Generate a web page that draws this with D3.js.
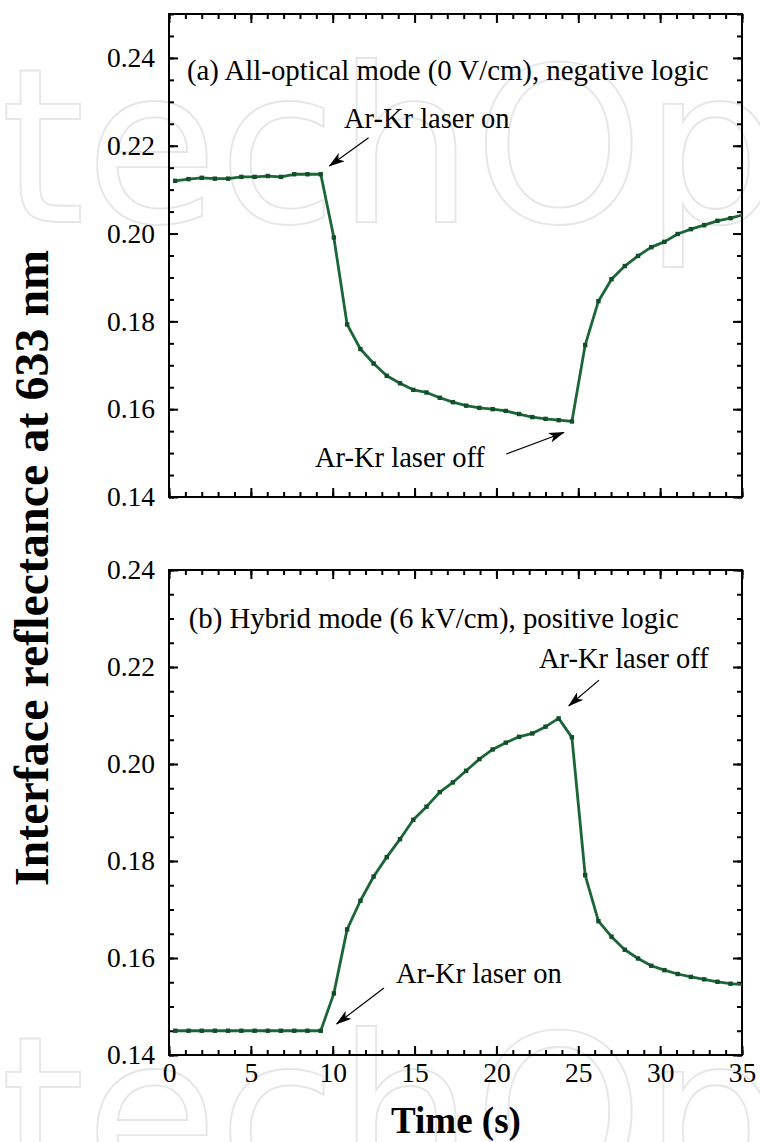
<!DOCTYPE html>
<html>
<head>
<meta charset="utf-8">
<script src="https://cdn.jsdelivr.net/npm/d3@7"></script>
<style>
body { margin: 0; background: #fff; }
svg text { font-family: "Liberation Serif", "Times New Roman", serif; }
</style>
</head>
<body>
<script>
// sample times (s)
var times = [0.38, 1.19, 2.00, 2.80, 3.61, 4.42, 5.23, 6.03, 6.84, 7.65, 8.46, 9.27,
    10.07, 10.88, 11.69, 12.50, 13.30, 14.11, 14.92, 15.73, 16.54, 17.34, 18.15, 18.96,
    19.77, 20.57, 21.38, 22.19, 23.00, 23.80, 24.61, 25.42, 26.23, 27.03, 27.84, 28.65,
    29.46, 30.26, 31.07, 31.88, 32.69, 33.50, 34.30, 35.11];

// (a) all-optical mode, 0 V/cm
var reflA = [0.2120, 0.2124, 0.2127, 0.2125, 0.2125, 0.2129, 0.2129, 0.2131, 0.2129, 0.2135, 0.2135, 0.2135,
    0.1991, 0.1793, 0.1737, 0.1704, 0.1676, 0.1659, 0.1644, 0.1638, 0.1626, 0.1616, 0.1608, 0.1603,
    0.1600, 0.1596, 0.1589, 0.1582, 0.1578, 0.1575, 0.1572, 0.1746, 0.1846, 0.1896, 0.1926, 0.1949,
    0.1969, 0.1981, 0.1999, 0.2010, 0.2019, 0.2029, 0.2035, 0.2043];

// (b) hybrid mode, 6 kV/cm
var reflB = [0.1450, 0.1450, 0.1450, 0.1450, 0.1450, 0.1450, 0.1450, 0.1450, 0.1450, 0.1450, 0.1450, 0.1450,
    0.1527, 0.1659, 0.1718, 0.1768, 0.1808, 0.1845, 0.1885, 0.1912, 0.1942, 0.1962, 0.1986, 0.2010,
    0.2030, 0.2044, 0.2056, 0.2063, 0.2077, 0.2094, 0.2055, 0.1771, 0.1676, 0.1644, 0.1617, 0.1599,
    0.1584, 0.1575, 0.1567, 0.1561, 0.1556, 0.1551, 0.1547, 0.1545];

var xTicks = [0, 5, 10, 15, 20, 25, 30, 35];
var yTicks = [0.14, 0.16, 0.18, 0.20, 0.22, 0.24];
var panelTitles = ["(a) All-optical mode (0 V/cm), negative logic",
                   "(b) Hybrid mode (6 kV/cm), positive logic"];
var laserOn = "Ar-Kr laser on", laserOff = "Ar-Kr laser off";

var width = 760, height = 1142;
var lineColor = "#1b6636";

var svg = d3.select("body").append("svg")
    .attr("width", width)
    .attr("height", height);

svg.append("defs").append("marker")
    .attr("id", "arrow")
    .attr("markerUnits", "userSpaceOnUse")
    .attr("markerWidth", 16).attr("markerHeight", 10)
    .attr("refX", 15).attr("refY", 5)
    .attr("orient", "auto")
  .append("path")
    .attr("d", "M0,0 L16,5 L0,10 L4,5 Z")
    .attr("fill", "#000");

// faint publisher watermark
[222, 1190].forEach(function(base) {
    svg.append("text")
        .attr("x", -200).attr("y", base)
        .text("IntechOpen")
        .style("font-family", "'DejaVu Sans'")
        .style("font-size", "216px")
        .attr("fill", "none")
        .attr("stroke", "#e6e6e6")
        .attr("stroke-width", 1.8);
});

var x = d3.scaleLinear().domain([0, 35]).range([169, 742]);

var panels = [
    { values: reflA, title: panelTitles[0], top: 14, bottom: 497, ymax: 0.25, labels: false,
      titleAt: [1.10, 0.2350],
      notes: [ { text: laserOn, at: [10.69, 0.2240], from: [12.19, 0.2218], to: [9.80, 0.2154] },
               { text: laserOff, at: [8.92, 0.1469], from: [20.60, 0.1498], to: [24.12, 0.1547] } ] },
    { values: reflB, title: panelTitles[1], top: 570, bottom: 1055, ymax: 0.24, labels: true,
      titleAt: [1.20, 0.2280],
      notes: [ { text: laserOff, at: [22.60, 0.2197], from: [26.27, 0.2173], to: [24.42, 0.2120] },
               { text: laserOn, at: [13.87, 0.1549], from: [13.13, 0.1538], to: [10.24, 0.1464] } ] }
];

var styleAxis = function(a) {
    a.select(".domain").remove();
    a.selectAll("line").attr("stroke", "#000").attr("stroke-width", 2);
    a.selectAll("text").attr("fill", "#000").style("font-size", "27.5px");
};

var drawPanel = function(p, i) {
    var y = d3.scaleLinear().domain([0.14, p.ymax]).range([p.bottom, p.top]);
    var g = svg.append("g");

    svg.select("defs").append("clipPath").attr("id", "clip" + i)
      .append("rect")
        .attr("x", x(0)).attr("y", p.top)
        .attr("width", x(35) - x(0)).attr("height", p.bottom - p.top);

    var xMinor = d3.range(0, 36, 1);
    var yMinor = d3.range(0, Math.round((p.ymax - 0.14) / 0.005) + 1).map(function(k) { return 0.14 + k * 0.005; });

    // minor ticks on all sides
    g.append("g").attr("transform", "translate(0," + p.bottom + ")")
        .call(d3.axisBottom(x).tickValues(xMinor).tickSize(-5).tickFormat("")).call(styleAxis);
    g.append("g").attr("transform", "translate(0," + p.top + ")")
        .call(d3.axisTop(x).tickValues(xMinor).tickSize(-5).tickFormat("")).call(styleAxis);
    g.append("g").attr("transform", "translate(" + x(0) + ",0)")
        .call(d3.axisLeft(y).tickValues(yMinor).tickSize(-5).tickFormat("")).call(styleAxis);
    g.append("g").attr("transform", "translate(" + x(35) + ",0)")
        .call(d3.axisRight(y).tickValues(yMinor).tickSize(-5).tickFormat("")).call(styleAxis);

    // major ticks
    g.append("g").attr("transform", "translate(0," + p.bottom + ")")
        .call(d3.axisBottom(x).tickValues(xTicks).tickSize(-9).tickPadding(7)
            .tickFormat(p.labels ? d3.format("d") : "")).call(styleAxis);
    g.append("g").attr("transform", "translate(0," + p.top + ")")
        .call(d3.axisTop(x).tickValues(xTicks).tickSize(-9).tickFormat("")).call(styleAxis);
    g.append("g").attr("transform", "translate(" + x(0) + ",0)")
        .call(d3.axisLeft(y).tickValues(yTicks).tickSize(-9).tickPadding(14)
            .tickFormat(d3.format(".2f"))).call(styleAxis);
    g.append("g").attr("transform", "translate(" + x(35) + ",0)")
        .call(d3.axisRight(y).tickValues(yTicks).tickSize(-9).tickFormat("")).call(styleAxis);

    g.append("rect")
        .attr("x", x(0)).attr("y", p.top)
        .attr("width", x(35) - x(0)).attr("height", p.bottom - p.top)
        .attr("fill", "none").attr("stroke", "#000").attr("stroke-width", 2);

    var pts = times.map(function(t, j) { return { t: t, v: p.values[j] }; });

    var line = d3.line()
        .x(function(d) { return x(d.t); })
        .y(function(d) { return y(d.v); });

    var plot = g.append("g").attr("clip-path", "url(#clip" + i + ")");
    plot.append("path")
        .datum(pts)
        .attr("d", line)
        .attr("fill", "none")
        .attr("stroke", lineColor)
        .attr("stroke-width", 2.8)
        .attr("stroke-linejoin", "round");
    plot.selectAll(".pt")
        .data(pts)
        .enter()
        .append("rect")
        .classed("pt", true)
        .attr("x", function(d) { return x(d.t) - 2.2; })
        .attr("y", function(d) { return y(d.v) - 2.2; })
        .attr("width", 4.4).attr("height", 4.4)
        .attr("fill", "#124f29");

    g.append("text")
        .attr("x", x(p.titleAt[0])).attr("y", y(p.titleAt[1]))
        .style("font-size", "28.8px")
        .text(p.title);

    p.notes.forEach(function(n) {
        g.append("text")
            .attr("x", x(n.at[0])).attr("y", y(n.at[1]))
            .style("font-size", "28.5px")
            .text(n.text);
        g.append("line")
            .attr("x1", x(n.from[0])).attr("y1", y(n.from[1]))
            .attr("x2", x(n.to[0])).attr("y2", y(n.to[1]))
            .attr("stroke", "#000").attr("stroke-width", 1.2)
            .attr("marker-end", "url(#arrow)");
    });
};

panels.forEach(drawPanel);

svg.append("text")
    .attr("transform", "translate(48,568) rotate(-90)")
    .attr("text-anchor", "middle")
    .style("font-size", "48px")
    .style("font-weight", "bold")
    .text("Interface reflectance at 633 nm");

svg.append("text")
    .attr("x", 456).attr("y", 1133)
    .attr("text-anchor", "middle")
    .style("font-size", "37px")
    .style("font-weight", "bold")
    .text("Time (s)");
</script>
</body>
</html>
